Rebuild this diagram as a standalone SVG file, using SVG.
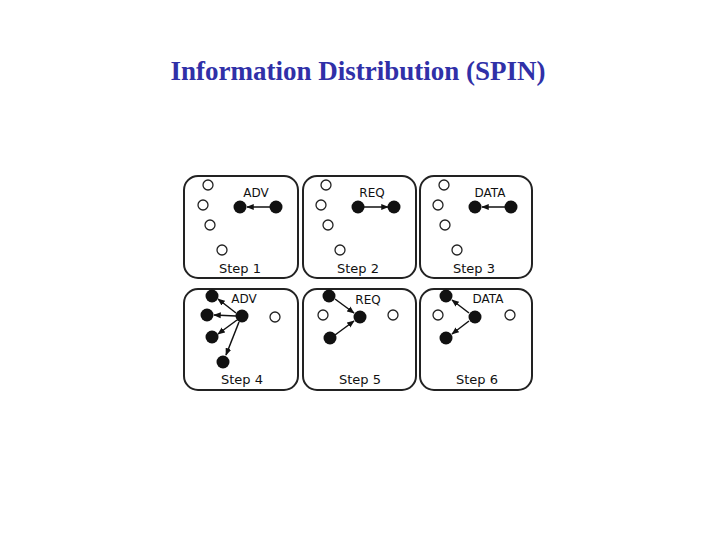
<svg xmlns="http://www.w3.org/2000/svg" width="720" height="540" viewBox="0 0 720 540">
<defs>
<style>
.title{font-family:"Liberation Serif","Times New Roman",serif;font-weight:bold;font-size:27px;fill:#3030a8}
.panel{fill:#fff;stroke:#222;stroke-width:2}
.lbl{font-family:"DejaVu Sans","Liberation Sans",sans-serif;font-size:12px;fill:#111}
.step{font-family:"DejaVu Sans","Liberation Sans",sans-serif;font-size:13px;fill:#111}
.on{fill:#111}
.off{fill:#fff;stroke:#222;stroke-width:1.3}
.ln{stroke:#111;stroke-width:1.5;fill:none;marker-end:url(#ah)}
</style>
<marker id="ah" viewBox="0 0 10 10" refX="9" refY="5" markerWidth="5" markerHeight="5" orient="auto">
<path d="M0,1 L10,5 L0,9 z" fill="#111"/>
</marker>
</defs>
<rect width="720" height="540" fill="#fff"/>
<text class="title" x="358" y="80" text-anchor="middle">Information Distribution (SPIN)</text>

<g id="panel1">
<rect class="panel" x="184" y="176" width="114" height="102" rx="14"/>
<circle class="off" cx="208" cy="185" r="5"/>
<circle class="off" cx="203" cy="205" r="5"/>
<circle class="off" cx="210" cy="225" r="5"/>
<circle class="off" cx="222" cy="250" r="5"/>
<circle class="on" cx="240" cy="207" r="6.5"/>
<circle class="on" cx="276" cy="207" r="6.5"/>
<text class="lbl" x="256" y="197" text-anchor="middle">ADV</text>
<text class="step" x="240" y="273" text-anchor="middle">Step 1</text>
</g>
<g id="panel2">
<rect class="panel" x="303" y="176" width="113" height="102" rx="14"/>
<circle class="off" cx="326" cy="185" r="5"/>
<circle class="off" cx="321" cy="205" r="5"/>
<circle class="off" cx="328" cy="225" r="5"/>
<circle class="off" cx="340" cy="250" r="5"/>
<circle class="on" cx="358" cy="207" r="6.5"/>
<circle class="on" cx="394" cy="207" r="6.5"/>
<text class="lbl" x="372" y="197" text-anchor="middle">REQ</text>
<text class="step" x="358" y="273" text-anchor="middle">Step 2</text>
</g>
<g id="panel3">
<rect class="panel" x="420" y="176" width="112" height="102" rx="14"/>
<circle class="off" cx="444" cy="185" r="5"/>
<circle class="off" cx="438" cy="205" r="5"/>
<circle class="off" cx="445" cy="225" r="5"/>
<circle class="off" cx="457" cy="250" r="5"/>
<circle class="on" cx="475" cy="207" r="6.5"/>
<circle class="on" cx="511" cy="207" r="6.5"/>
<text class="lbl" x="490" y="197" text-anchor="middle">DATA</text>
<text class="step" x="474" y="273" text-anchor="middle">Step 3</text>
</g>
<g id="panel4">
<rect class="panel" x="184" y="289" width="114" height="101" rx="14"/>
<circle class="on" cx="212" cy="296" r="6.5"/>
<circle class="on" cx="207" cy="315" r="6.5"/>
<circle class="on" cx="212" cy="337" r="6.5"/>
<circle class="on" cx="223" cy="362" r="6.5"/>
<circle class="on" cx="242" cy="316" r="6.5"/>
<circle class="off" cx="275" cy="317" r="5"/>
<text class="lbl" x="244" y="303" text-anchor="middle">ADV</text>
<text class="step" x="242" y="384" text-anchor="middle">Step 4</text>
</g>
<g id="panel5">
<rect class="panel" x="303" y="289" width="113" height="101" rx="14"/>
<circle class="on" cx="329" cy="296" r="6.5"/>
<circle class="off" cx="323" cy="315" r="5"/>
<circle class="on" cx="360" cy="317" r="6.5"/>
<circle class="on" cx="330" cy="338" r="6.5"/>
<circle class="off" cx="393" cy="315" r="5"/>
<text class="lbl" x="368" y="304" text-anchor="middle">REQ</text>
<text class="step" x="360" y="384" text-anchor="middle">Step 5</text>
</g>
<g id="panel6">
<rect class="panel" x="420" y="289" width="112" height="101" rx="14"/>
<circle class="on" cx="446" cy="296" r="6.5"/>
<circle class="off" cx="438" cy="315" r="5"/>
<circle class="on" cx="475" cy="317" r="6.5"/>
<circle class="on" cx="446" cy="338" r="6.5"/>
<circle class="off" cx="510" cy="315" r="5"/>
<text class="lbl" x="488" y="303" text-anchor="middle">DATA</text>
<text class="step" x="477" y="384" text-anchor="middle">Step 6</text>
</g>

<g id="connectors">
<line class="ln" x1="270" y1="207" x2="247" y2="207"/>
<line class="ln" x1="364" y1="207" x2="388" y2="207"/>
<line class="ln" x1="505" y1="207" x2="482" y2="207"/>
<line class="ln" x1="236" y1="313" x2="218" y2="299"/>
<line class="ln" x1="236" y1="316" x2="214" y2="315"/>
<line class="ln" x1="237" y1="320" x2="218" y2="334"/>
<line class="ln" x1="239" y1="322" x2="226" y2="355"/>
<line class="ln" x1="335" y1="299" x2="354" y2="313"/>
<line class="ln" x1="335" y1="335" x2="354" y2="321"/>
<line class="ln" x1="469" y1="313" x2="452" y2="300"/>
<line class="ln" x1="469" y1="321" x2="452" y2="334"/>
</g>
</svg>
